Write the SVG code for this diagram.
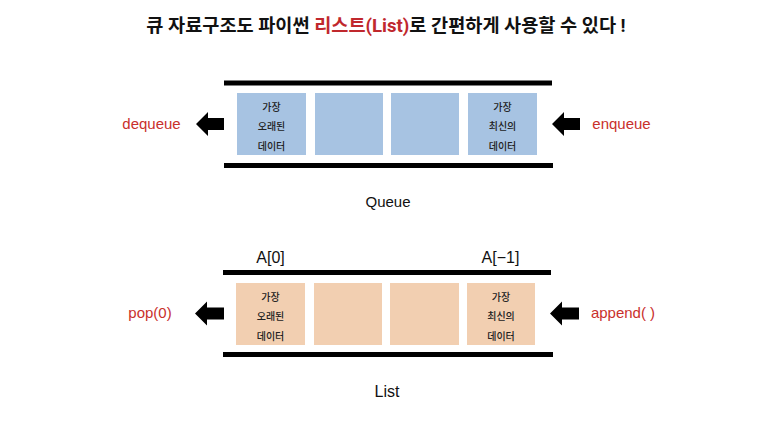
<svg xmlns="http://www.w3.org/2000/svg" width="784" height="423" viewBox="0 0 784 423">
<style>
.title{font-family:Roboto,"Noto Sans CJK KR",sans-serif;font-size:18.6px;font-weight:bold;fill:#111}
.red{fill:#c0282d}
.lbl{font-family:"Liberation Sans",Arial,sans-serif;font-size:15px;fill:#c9302c;text-anchor:middle}
.cap{font-family:"Liberation Sans",Arial,sans-serif;font-size:15px;fill:#111;text-anchor:middle}
.idx{font-family:"Liberation Sans",Arial,sans-serif;font-size:16px;fill:#111;text-anchor:middle}
.bar{fill:#000}
.qbox{fill:#a7c3e2}
.lbox{fill:#f2cfb1}
.bt{font-family:"Noto Sans CJK KR",sans-serif;font-size:10px;font-weight:500;fill:#222;text-anchor:middle}
.arr{fill:#000}
</style>
<rect width="784" height="423" fill="#fff"/>
<text id="title" class="title" x="386" y="31.5" text-anchor="middle">큐 자료구조도 파이썬 <tspan class="red">리스트(List)</tspan>로 간편하게 사용할 수 있다 !</text>

<g id="queue">
  <rect class="bar" x="224" y="80.5" width="328" height="5"/>
  <rect class="bar" x="224" y="163" width="329" height="5"/>
  <g id="q1"><rect class="qbox" x="237" y="93" width="69" height="62"/>
    <text class="bt" x="271.5" y="110.5">가장</text><text class="bt" x="271.5" y="130">오래된</text><text class="bt" x="271.5" y="149.5">데이터</text></g>
  <g id="q2"><rect class="qbox" x="315" y="93" width="68" height="62"/></g>
  <g id="q3"><rect class="qbox" x="391" y="93" width="68" height="62"/></g>
  <g id="q4"><rect class="qbox" x="468" y="93" width="69" height="62"/>
    <text class="bt" x="502.5" y="110.5">가장</text><text class="bt" x="502.5" y="130">최신의</text><text class="bt" x="502.5" y="149.5">데이터</text></g>
  <text id="queue-label" class="cap" x="388" y="207">Queue</text>
  <text id="dequeue" class="lbl" x="151.5" y="128.5">dequeue</text>
  <text id="enqueue" class="lbl" x="621.5" y="128.5">enqueue</text>
</g>

<g id="list">
  <text class="idx" x="270.5" y="262.5">A[0]</text>
  <text class="idx" x="500.5" y="262.5">A[−1]</text>
  <rect class="bar" x="223" y="270" width="328" height="5"/>
  <rect class="bar" x="223" y="352" width="330" height="5"/>
  <g id="l1"><rect class="lbox" x="236" y="283" width="69" height="62"/>
    <text class="bt" x="270.5" y="300.5">가장</text><text class="bt" x="270.5" y="320">오래된</text><text class="bt" x="270.5" y="339.5">데이터</text></g>
  <g id="l2"><rect class="lbox" x="314" y="283" width="68" height="62"/></g>
  <g id="l3"><rect class="lbox" x="390" y="283" width="69" height="62"/></g>
  <g id="l4"><rect class="lbox" x="467" y="283" width="68" height="62"/>
    <text class="bt" x="501" y="300.5">가장</text><text class="bt" x="501" y="320">최신의</text><text class="bt" x="501" y="339.5">데이터</text></g>
  <text id="list-label" class="cap" x="387" y="397" style="font-size:16px">List</text>
  <text id="pop" class="lbl" x="150" y="318">pop(0)</text>
  <text id="append" class="lbl" x="623" y="318">append( )</text>
</g>

<g id="connectors">
  <polygon class="arr" points="196,124 208,112 208,118 224,118 224,130 208,130 208,136"/>
  <polygon class="arr" points="552,124 564,112 564,118 580,118 580,130 564,130 564,136"/>
  <polygon class="arr" points="195,313.5 207,301.5 207,307.5 224,307.5 224,319.5 207,319.5 207,325.5"/>
  <polygon class="arr" points="550,313.5 562,301.5 562,307.5 579,307.5 579,319.5 562,319.5 562,325.5"/>
</g>
</svg>
